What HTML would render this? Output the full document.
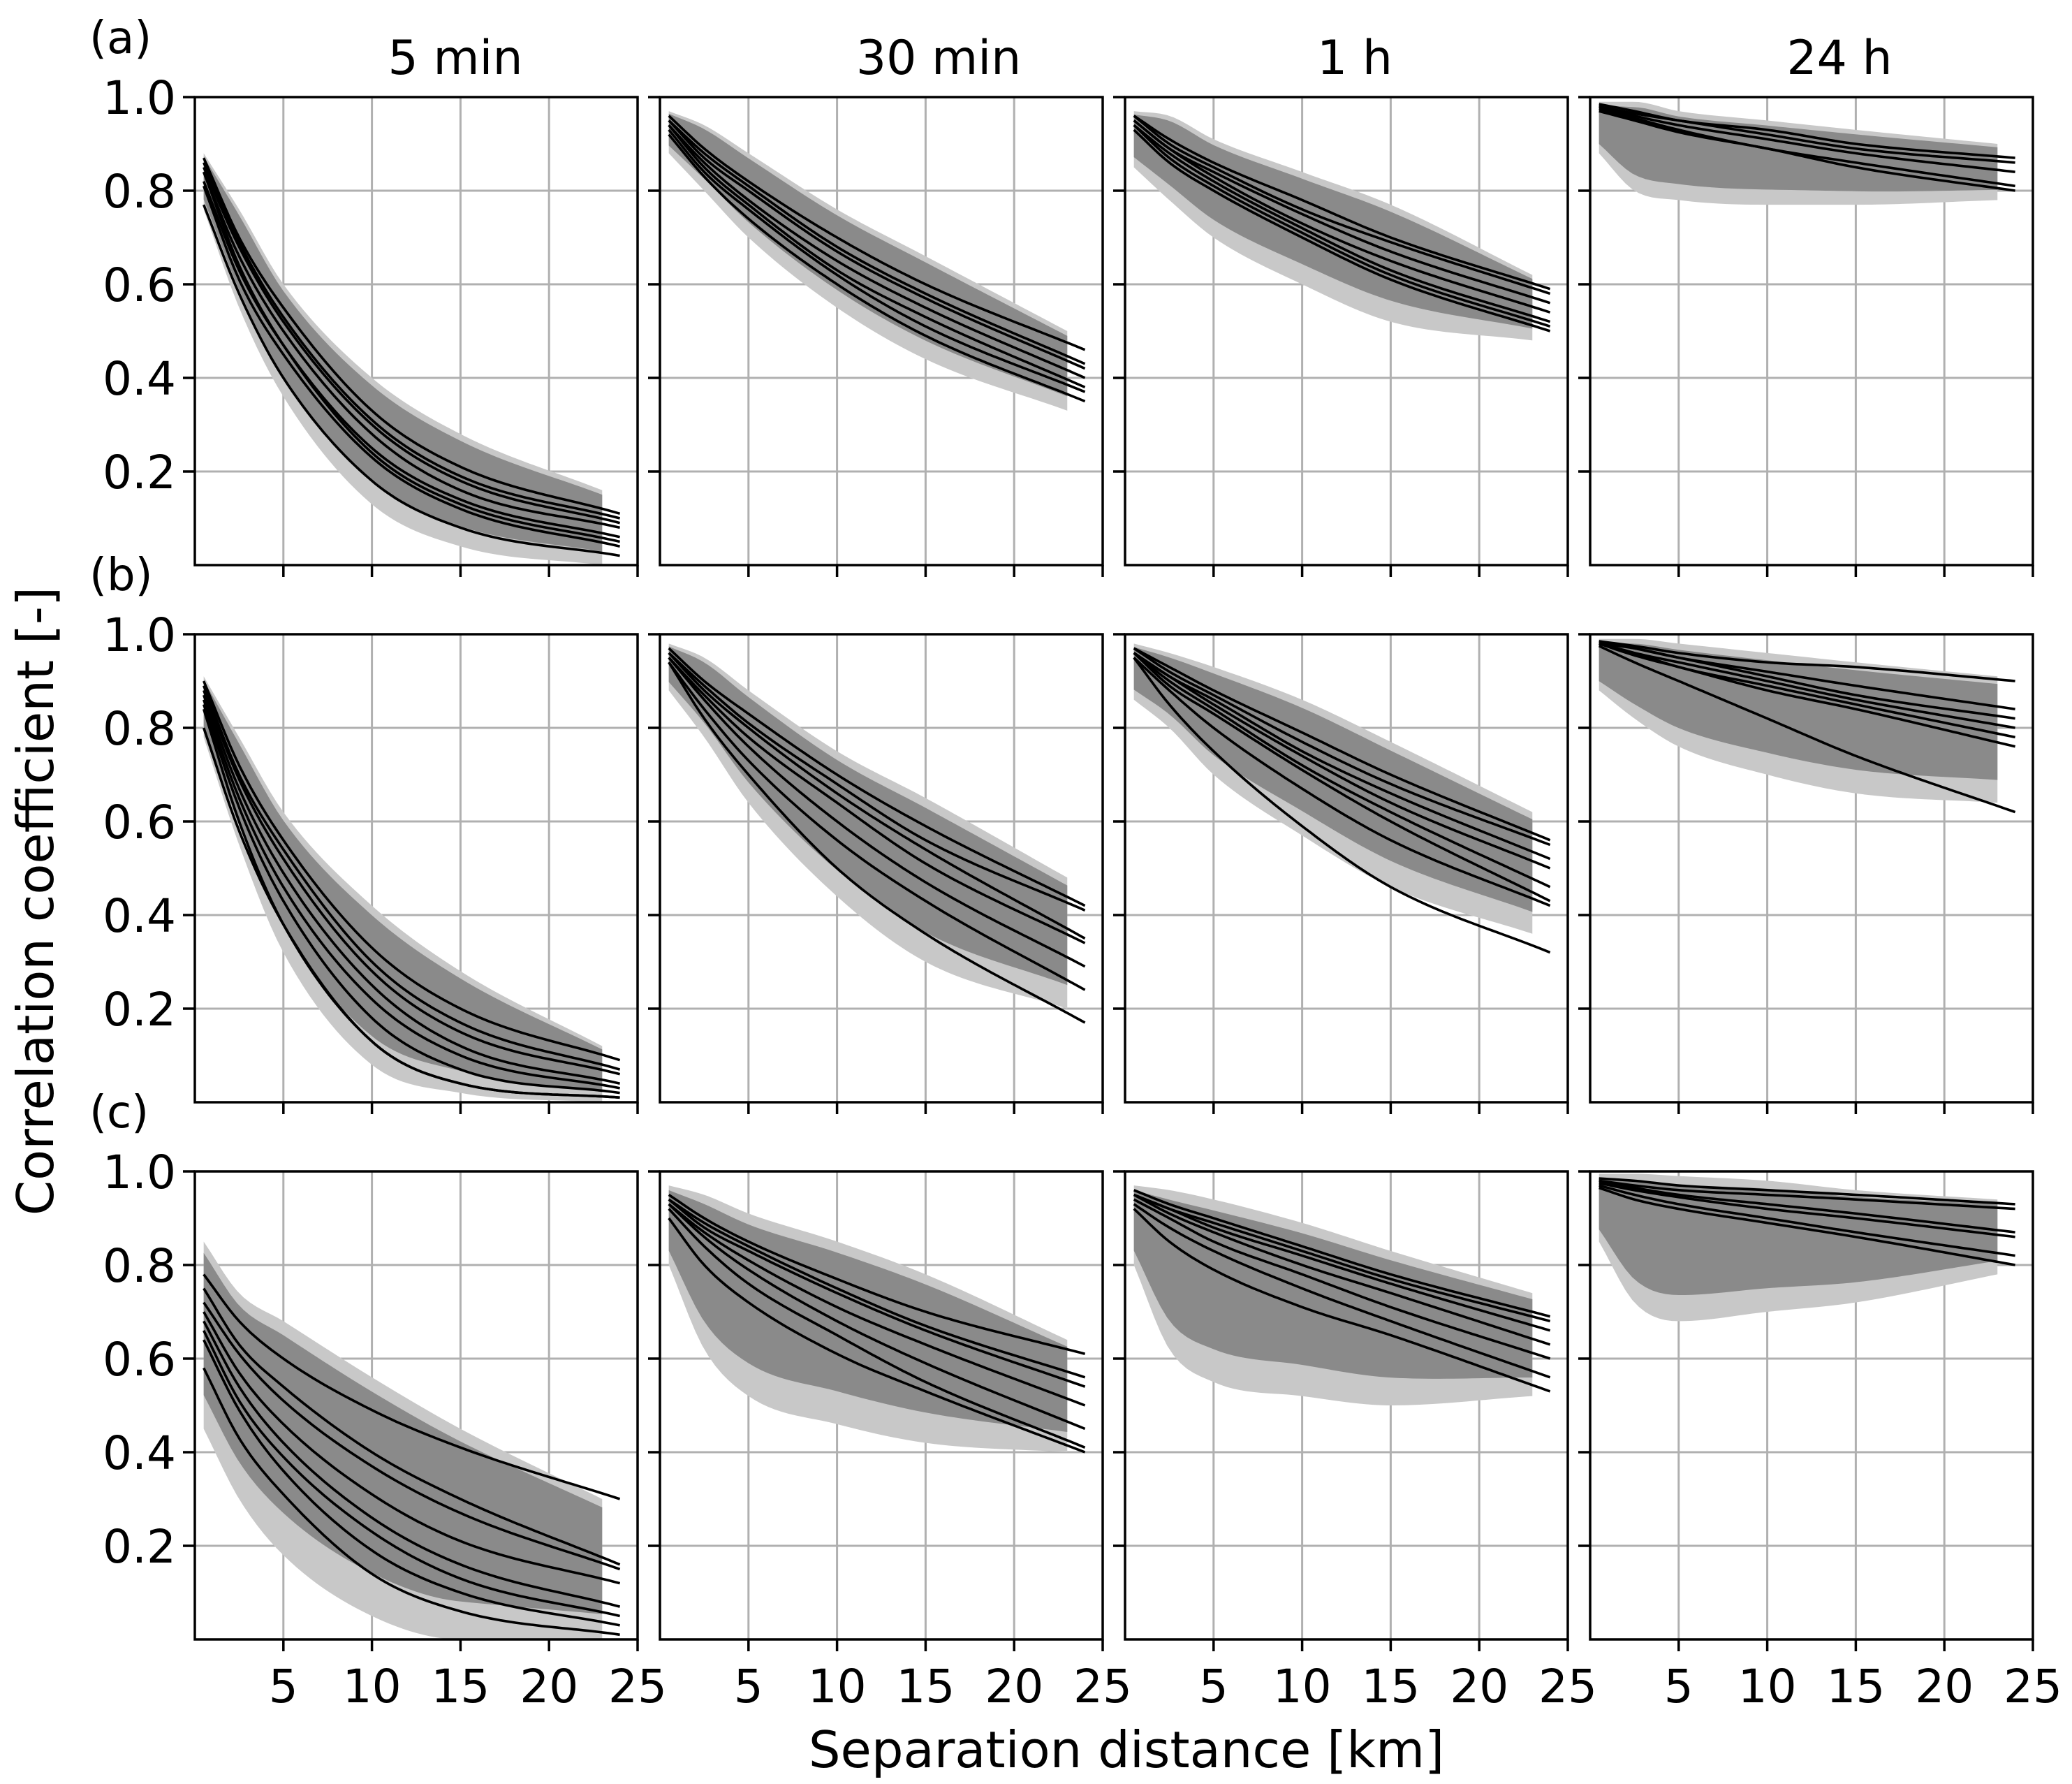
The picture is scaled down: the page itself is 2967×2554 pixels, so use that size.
<!DOCTYPE html>
<html><head><meta charset="utf-8"><style>
html,body{margin:0;padding:0;background:#fff}
svg{display:block;font-family:"DejaVu Sans","Liberation Sans",sans-serif}
</style></head><body>
<svg id="fig" width="2967" height="2554" viewBox="0 0 2967 2554" xmlns="http://www.w3.org/2000/svg">
<rect width="2967" height="2554" fill="#fff"/>
</svg>
<script>
// ---- data ----
const colTitles = ["5 min", "30 min", "1 h", "24 h"];
const rowLabels = ["(a)", "(b)", "(c)"];
const yTicks = [0.2, 0.4, 0.6, 0.8, 1.0];
const yTickLabels = ["0.2", "0.4", "0.6", "0.8", "1.0"];
const xTicks = [5, 10, 15, 20, 25];
const xTickLabels = ["5", "10", "15", "20", "25"];
const curveX = [0.5, 2.5, 5, 10, 15, 24];
const bandX = [0.5, 2.5, 5, 10, 15, 23];
const curves_a0 = [[.87,.70,.55,.33,.21,.11],[.86,.69,.53,.31,.19,.10],[.85,.68,.52,.30,.18,.09],[.84,.66,.50,.28,.16,.08],[.82,.63,.47,.25,.14,.06],[.84,.64,.47,.24,.13,.05],[.81,.61,.45,.23,.12,.04],[.77,.58,.40,.18,.08,.02]];
const curves_a1 = [[.96,.89,.82,.70,.60,.46],[.95,.88,.81,.68,.58,.43],[.95,.87,.80,.67,.57,.42],[.94,.86,.78,.65,.55,.40],[.94,.85,.77,.63,.53,.38],[.93,.84,.76,.62,.51,.37],[.92,.83,.74,.60,.49,.35]];
const curves_a2 = [[.96,.91,.86,.78,.70,.59],[.96,.90,.85,.76,.69,.58],[.95,.89,.84,.75,.67,.56],[.95,.89,.83,.73,.65,.54],[.94,.88,.82,.72,.63,.52],[.94,.87,.81,.71,.62,.51],[.93,.86,.80,.70,.61,.50]];
const curves_a3 = [[.985,.97,.95,.93,.90,.87],[.98,.965,.95,.92,.89,.86],[.98,.96,.94,.91,.88,.84],[.975,.955,.93,.89,.86,.81],[.97,.95,.925,.89,.85,.80]];
const curves_b0 = [[.90,.72,.56,.33,.20,.09],[.89,.70,.54,.30,.17,.07],[.88,.69,.52,.28,.15,.06],[.87,.67,.49,.25,.12,.04],[.86,.65,.46,.22,.10,.03],[.85,.63,.43,.18,.07,.02],[.84,.60,.38,.13,.04,.01],[.80,.58,.38,.13,.04,.01]];
const curves_b1 = [[.97,.90,.83,.70,.59,.42],[.96,.89,.81,.68,.56,.41],[.96,.88,.80,.66,.54,.35],[.95,.87,.78,.64,.51,.34],[.95,.86,.76,.60,.47,.29],[.94,.84,.73,.56,.43,.24],[.94,.82,.70,.50,.36,.17]];
const curves_b2 = [[.97,.93,.88,.79,.70,.56],[.97,.92,.87,.77,.68,.55],[.96,.91,.86,.75,.66,.52],[.96,.91,.85,.74,.64,.50],[.96,.90,.84,.72,.62,.46],[.96,.89,.83,.71,.60,.43],[.95,.88,.80,.67,.56,.42],[.95,.85,.75,.59,.46,.32]];
const curves_b3 = [[.985,.975,.96,.94,.93,.90],[.985,.97,.95,.92,.89,.84],[.98,.97,.95,.91,.87,.82],[.98,.96,.94,.90,.86,.80],[.98,.96,.93,.89,.85,.78],[.98,.955,.93,.88,.84,.76],[.975,.94,.90,.82,.74,.62]];
const curves_c0 = [[.78,.68,.60,.49,.41,.30],[.75,.63,.54,.40,.30,.16],[.72,.61,.51,.37,.27,.15],[.70,.57,.46,.31,.21,.12],[.68,.54,.42,.26,.16,.07],[.66,.51,.39,.23,.13,.05],[.64,.49,.36,.19,.10,.03],[.58,.43,.31,.14,.06,.01]];
const curves_c1 = [[.95,.90,.85,.77,.70,.61],[.94,.89,.84,.75,.67,.56],[.94,.88,.83,.74,.66,.54],[.93,.87,.81,.71,.63,.50],[.93,.86,.79,.68,.59,.45],[.92,.84,.76,.65,.55,.41],[.90,.80,.72,.61,.53,.40]];
const curves_c2 = [[.96,.93,.90,.84,.78,.69],[.95,.92,.89,.83,.77,.68],[.95,.92,.88,.82,.76,.66],[.95,.91,.87,.80,.74,.63],[.94,.90,.85,.78,.71,.60],[.93,.88,.83,.75,.68,.56],[.92,.85,.79,.71,.65,.53]];
const curves_c3 = [[.985,.98,.97,.96,.95,.93],[.98,.97,.96,.95,.94,.92],[.98,.965,.95,.93,.91,.87],[.975,.96,.945,.92,.90,.86],[.97,.95,.93,.90,.87,.82],[.965,.94,.92,.89,.86,.80]];
const bandUpper = [[.88,.76,.60,.40,.28,.16],[.97,.94,.88,.76,.66,.50],[.97,.96,.91,.84,.77,.62],[.99,.99,.97,.95,.93,.90],
                   [.91,.78,.62,.42,.28,.12],[.98,.95,.88,.75,.65,.48],[.98,.96,.93,.86,.77,.62],[.99,.99,.98,.96,.94,.91],
                   [.85,.74,.68,.56,.45,.30],[.97,.95,.91,.85,.78,.64],[.97,.96,.94,.89,.83,.74],[.995,.995,.99,.98,.96,.94]];
const bandLower = [[.76,.55,.36,.13,.04,.0],[.88,.80,.70,.55,.44,.33],[.85,.78,.70,.60,.52,.48],[.88,.80,.78,.77,.77,.78],
                   [.78,.55,.32,.08,.02,.0],[.88,.78,.64,.44,.30,.20],[.86,.80,.70,.57,.46,.36],[.88,.82,.76,.70,.66,.64],
                   [.45,.30,.18,.05,.0,.0],[.80,.62,.52,.46,.42,.40],[.80,.62,.55,.52,.50,.52],[.85,.72,.68,.70,.72,.78]];
const allCurves = [curves_a0,curves_a1,curves_a2,curves_a3,curves_b0,curves_b1,curves_b2,curves_b3,curves_c0,curves_c1,curves_c2,curves_c3];

// ---- layout ----
const NS = "http://www.w3.org/2000/svg";
const svg = document.getElementById("fig");
const L0 = 279, T0 = 139, W = 634, H = 670, DX = 666, DY = 769;
function mk(tag, attrs, parent) {
  const e = document.createElementNS(NS, tag);
  for (const k in attrs) e.setAttribute(k, attrs[k]);
  (parent || svg).appendChild(e);
  return e;
}
function interp(xs, ys, x) {
  const n = xs.length;
  const d = [], m = [];
  for (let i = 0; i < n - 1; i++) d.push((ys[i+1]-ys[i])/(xs[i+1]-xs[i]));
  m.push(d[0]);
  for (let i = 1; i < n - 1; i++) m.push(d[i-1]*d[i] <= 0 ? 0 : (d[i-1]+d[i])/2);
  m.push(d[n-2]);
  for (let i = 0; i < n - 1; i++) {
    if (d[i] === 0) { m[i] = 0; m[i+1] = 0; continue; }
    const a = m[i]/d[i], b = m[i+1]/d[i], s = a*a + b*b;
    if (s > 9) { const t = 3/Math.sqrt(s); m[i] = t*a*d[i]; m[i+1] = t*b*d[i]; }
  }
  let k = 0;
  while (k < n - 2 && x > xs[k+1]) k++;
  const h = xs[k+1]-xs[k], t = (x-xs[k])/h;
  const h00 = 2*t*t*t-3*t*t+1, h10 = t*t*t-2*t*t+t, h01 = -2*t*t*t+3*t*t, h11 = t*t*t-t*t;
  return h00*ys[k] + h10*h*m[k] + h01*ys[k+1] + h11*h*m[k+1];
}

for (let r = 0; r < 3; r++) {
  for (let c = 0; c < 4; c++) {
    const idx = r*4 + c;
    const left = L0 + c*DX, top = T0 + r*DY;
    const xs = d => left + d/25*W;
    const ys = v => top + (1-v)*H;
    const g = mk("g", {});
    
    
    const cid = "clip" + idx;
    const cp = mk("clipPath", {id: cid}, g);
    mk("rect", {x: left, y: top, width: W, height: H}, cp);
    const grid = mk("g", {stroke: "#b0b0b0", "stroke-width": 3}, g);
    
    
    xTicks.forEach(t => { if (t < 25) mk("line", {x1: xs(t), x2: xs(t), y1: top, y2: top+H}, grid); });
    yTicks.forEach(t => { if (t < 1) mk("line", {x1: left, x2: left+W, y1: ys(t), y2: ys(t)}, grid); });
    const up = bandUpper[idx], lo = bandLower[idx];
    const N = 60;
    let outer = [], inner = [];
    for (let i = 0; i <= N; i++) {
      const d = bandX[0] + (bandX[5]-bandX[0])*i/N;
      outer.push([xs(d), ys(Math.min(1, interp(bandX, up, d)))]);
    }
    for (let i = N; i >= 0; i--) {
      const d = bandX[0] + (bandX[5]-bandX[0])*i/N;
      outer.push([xs(d), ys(Math.max(0, interp(bandX, lo, d)))]);
    }
    for (let i = 0; i <= N; i++) {
      const d = bandX[0] + (bandX[5]-bandX[0])*i/N;
      const u = interp(bandX, up, d), l = interp(bandX, lo, d);
      inner.push([xs(d), ys(Math.min(1, u - (u-l)*0.06))]);
    }
    for (let i = N; i >= 0; i--) {
      const d = bandX[0] + (bandX[5]-bandX[0])*i/N;
      const u = interp(bandX, up, d), l = interp(bandX, lo, d);
      inner.push([xs(d), ys(Math.max(0, l + (u-l)*0.18))]);
    }
    const bo = mk("polygon", {points: outer.map(p => p.join(",")).join(" "), fill: "#c8c8c8", "clip-path": "url(#"+cid+")"}, g);
    
    
    const bi = mk("polygon", {points: inner.map(p => p.join(",")).join(" "), fill: "#8a8a8a", "clip-path": "url(#"+cid+")"}, g);
    
    
    allCurves[idx].forEach((cv, k) => {
      let pts = [];
      for (let i = 0; i <= 80; i++) {
        const d = curveX[0] + (curveX[5]-curveX[0])*i/80;
        pts.push(xs(d).toFixed(1) + "," + ys(interp(curveX, cv, d)).toFixed(1));
      }
      const pl = mk("polyline", {points: pts.join(" "), fill: "none", stroke: "#000", "stroke-width": 3.6}, g);
      
      
    });
    const fr = mk("rect", {x: left, y: top, width: W, height: H, fill: "none", stroke: "#000", "stroke-width": 3.5}, g);
    
    
    const tk = mk("g", {stroke: "#000", "stroke-width": 3.5}, g);
    
    
    xTicks.forEach(t => mk("line", {x1: xs(t), x2: xs(t), y1: top+H, y2: top+H+17}, tk));
    yTicks.forEach(t => mk("line", {x1: left-17, x2: left, y1: ys(t), y2: ys(t)}, tk));
    if (c === 0) {
      yTicks.forEach((t, i) => {
        const tx = mk("text", {x: left-27, y: ys(t)+24, "text-anchor": "end", "font-size": 66}, g);
        tx.textContent = yTickLabels[i];
        
        
      });
    }
    if (r === 2) {
      xTicks.forEach((t, i) => {
        const tx = mk("text", {x: xs(t), y: 2437, "text-anchor": "middle", "font-size": 66}, g);
        tx.textContent = xTickLabels[i];
        
        
      });
    }
  }
}
const titleX = [652, 1344, 1940, 2634];
colTitles.forEach((t, i) => {
  const tx = mk("text", {x: titleX[i], y: 106, "text-anchor": "middle", "font-size": 68});
  tx.textContent = t;
  
  
});
rowLabels.forEach((t, i) => {
  const tx = mk("text", {x: 128, y: 76 + i*DY, "font-size": 64});
  tx.textContent = t;
  
  
});
const yl = mk("text", {x: 0, y: 0, "text-anchor": "middle", "font-size": 72, transform: "translate(76,1290) rotate(-90)"});
yl.textContent = "Correlation coefficient [-]";


const xl = mk("text", {x: 1613, y: 2530, "text-anchor": "middle", "font-size": 72});
xl.textContent = "Separation distance [km]";


</script>
</body></html>
